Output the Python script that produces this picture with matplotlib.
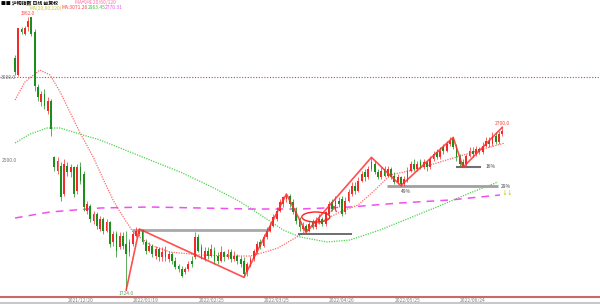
import matplotlib
matplotlib.use("Agg")
import matplotlib.pyplot as plt
from matplotlib.patches import Ellipse
from matplotlib.lines import Line2D
import numpy as np

plt.rcParams['font.family'] = ['Noto Sans CJK SC', 'DejaVu Sans']

# daily candles
opens = [3116, 3014, 3290, 3260, 3300, 3360, 3270, 2940, 2850, 2900,
         2800, 2860, 2520, 2440, 2470, 2300, 2470, 2430, 2460, 2320,
         2460, 2420, 2200, 2230, 2140, 2180, 2090, 2150, 2080, 2130,
         2010, 2060, 1980, 2050, 2000, 1950, 2000, 2050, 2060, 2080,
         2010, 1960, 1990, 1930, 1970, 1920, 1960, 1910, 1940, 1900,
         1870, 1850, 1830, 1850, 1900, 1920, 2040, 1980, 1910, 1960,
         1930, 1960, 1930, 1900, 1950, 1920, 1950, 1910, 1930, 1910,
         1900, 1830, 1870, 1910, 1950, 2010, 1990, 2040, 2080, 2110,
         2150, 2200, 2240, 2270, 2290, 2250, 2200, 2150, 2090, 2110,
         2080, 2130, 2100, 2130, 2150, 2120, 2180, 2250, 2210, 2260,
         2270, 2190, 2260, 2300, 2350, 2320, 2380, 2430, 2400, 2450,
         2480, 2430, 2400, 2450, 2410, 2450, 2410, 2370, 2400, 2360,
         2380, 2440, 2480, 2450, 2490, 2460, 2490, 2460, 2510, 2550,
         2520, 2580, 2560, 2600, 2630, 2580, 2520, 2490, 2480, 2530,
         2560, 2540, 2570, 2550, 2590, 2620, 2600, 2650, 2610, 2660]
closes = [3032, 3296, 3270, 3296, 3340, 3260, 2950, 2880, 2900, 2830,
          2860, 2690, 2460, 2500, 2280, 2480, 2430, 2460, 2300, 2460,
          2380, 2220, 2240, 2150, 2180, 2110, 2150, 2080, 2130, 2000,
          2060, 1960, 2050, 1990, 1940, 2010, 2060, 2080, 2080, 2010,
          1960, 1990, 1940, 1970, 1920, 1950, 1920, 1940, 1900, 1860,
          1850, 1810, 1850, 1880, 1880, 2040, 1960, 1920, 1960, 1930,
          1970, 1900, 1900, 1950, 1920, 1940, 1910, 1930, 1900, 1880,
          1820, 1880, 1910, 1960, 2000, 1980, 2040, 2080, 2110, 2160,
          2200, 2250, 2280, 2290, 2240, 2190, 2140, 2100, 2110, 2080,
          2120, 2100, 2140, 2150, 2120, 2190, 2240, 2210, 2260, 2240,
          2180, 2260, 2310, 2350, 2320, 2380, 2420, 2400, 2450, 2490,
          2430, 2400, 2440, 2410, 2450, 2400, 2370, 2400, 2360, 2390,
          2440, 2480, 2450, 2480, 2460, 2490, 2460, 2510, 2540, 2520,
          2560, 2560, 2600, 2620, 2580, 2520, 2480, 2470, 2530, 2560,
          2540, 2570, 2550, 2590, 2620, 2600, 2650, 2610, 2660, 2680]
highs = [3134, 3296, 3300, 3310, 3362, 3350, 3290, 2960, 2920, 2930,
         2880, 2870, 2530, 2520, 2490, 2510, 2490, 2480, 2470, 2480,
         2490, 2440, 2260, 2240, 2200, 2190, 2170, 2160, 2150, 2140,
         2080, 2080, 2070, 2070, 2080, 2030, 2080, 2100, 2090, 2090,
         2030, 2010, 2000, 1990, 1980, 1980, 1990, 1960, 1950, 1920,
         1880, 1870, 1860, 1900, 1930, 2070, 2060, 2000, 1980, 1980,
         2000, 1980, 1950, 1990, 1960, 1970, 1970, 1960, 1940, 1930,
         1920, 1890, 1930, 1970, 2020, 2030, 2060, 2100, 2130, 2180,
         2220, 2270, 2290, 2300, 2300, 2270, 2220, 2160, 2130, 2120,
         2140, 2150, 2160, 2180, 2160, 2200, 2260, 2270, 2290, 2280,
         2290, 2280, 2330, 2370, 2370, 2400, 2440, 2450, 2470, 2520,
         2500, 2450, 2460, 2470, 2470, 2460, 2430, 2420, 2410, 2410,
         2460, 2500, 2510, 2500, 2510, 2510, 2500, 2530, 2560, 2570,
         2580, 2600, 2620, 2640, 2640, 2600, 2540, 2510, 2540, 2580,
         2580, 2590, 2580, 2610, 2640, 2640, 2670, 2670, 2680, 2700]
lows = [3014, 3008, 3260, 3254, 3280, 3250, 2920, 2860, 2830, 2810,
        2780, 2650, 2440, 2420, 2260, 2290, 2410, 2400, 2280, 2300,
        2360, 2200, 2180, 2130, 2120, 2090, 2080, 2060, 2070, 1980,
        1990, 1920, 1970, 1970, 1724, 1930, 1990, 2040, 2050, 2000,
        1940, 1950, 1920, 1910, 1900, 1900, 1900, 1890, 1880, 1850,
        1830, 1800, 1820, 1840, 1860, 1910, 1950, 1910, 1900, 1910,
        1920, 1880, 1880, 1890, 1900, 1910, 1890, 1900, 1880, 1860,
        1800, 1810, 1860, 1900, 1940, 1970, 1980, 2030, 2070, 2100,
        2140, 2190, 2220, 2250, 2220, 2180, 2120, 2080, 2080, 2070,
        2070, 2090, 2090, 2120, 2110, 2110, 2170, 2200, 2200, 2220,
        2170, 2180, 2250, 2290, 2300, 2310, 2370, 2380, 2390, 2440,
        2420, 2390, 2390, 2400, 2400, 2390, 2360, 2360, 2350, 2350,
        2370, 2430, 2440, 2440, 2450, 2450, 2440, 2450, 2500, 2510,
        2510, 2540, 2550, 2590, 2570, 2500, 2470, 2460, 2470, 2520,
        2520, 2530, 2540, 2540, 2580, 2580, 2590, 2600, 2600, 2650]

# moving averages (candle index, price)
ma1_x = [0, 3, 7.6, 10.7, 13.8, 19.9, 23.9, 27.5, 30, 32.1, 36.1, 41.3, 47.4,
         56.6, 65.7, 71.9, 76.5, 80.4, 87.2, 93.3, 99.4, 104.9, 110.1, 114.7,
         121.7, 126.9, 136.1, 145.3, 149.8]
ma1_y = [2864, 2972, 3044, 3014, 2912, 2666, 2522, 2366, 2264, 2192, 2072, 1994,
         1952, 1934, 1928, 1928, 1952, 1976, 2054, 2132, 2192, 2234, 2324, 2414,
         2444, 2474, 2528, 2582, 2606]
ma2_x = [0, 4.6, 9.8, 13.8, 20.8, 26, 32.1, 41.3, 50.5, 59.6, 67.9, 71.9, 76.5,
         82, 87.2, 95.4, 102.4, 111.6, 117.7, 129, 139.1, 147.7]
ma2_y = [2606, 2660, 2696, 2696, 2654, 2624, 2576, 2504, 2432, 2348, 2264, 2216,
         2156, 2084, 2042, 2012, 2024, 2084, 2132, 2222, 2306, 2372]
ma3_x = [0, 10.7, 26, 41.3, 56.6, 71.9, 87.2, 102.4, 117.7, 133, 148.3]
ma3_y = [2156, 2192, 2216, 2222, 2216, 2210, 2210, 2222, 2246, 2264, 2294]

# swing points of the zigzag (index, 'H'/'L')
zig_idx = [34, 38, 70, 83, 89, 109, 118, 134, 137, 149]
zig_kind = ['L', 'H', 'L', 'H', 'L', 'H', 'L', 'H', 'L', 'H']

# support / resistance levels: price, first index, last index
lvl_price = [2084, 2060, 2348, 2462]
lvl_start = [35.8, 86.5, 113.8, 135]
lvl_end = [78, 103, 147.7, 142.5]

tick_pos = [20, 40, 60, 80, 100, 120, 140]
tick_labels = ['2021/12/20', '2022/01/19', '2022/02/25', '2022/03/25',
               '2022/04/26', '2022/05/25', '2022/06/24']

UP = '#f22a2a'
DOWN = '#1a901a'

fig = plt.figure(figsize=(6, 3.04), dpi=100)
ax = fig.add_axes([0, 7/304, 1, 297/304])
ax.set_xlim(-4.6, 178.9)
ax.set_ylim(1682, 3464)

o = np.array(opens); c = np.array(closes)
h = np.array(highs); l = np.array(lows)
idx = np.arange(len(o))
cols = np.where(c >= o, UP, DOWN)
ax.vlines(idx, l, h, colors=cols, lw=0.5, zorder=3)
ax.bar(idx, np.maximum(np.abs(c - o), 4), bottom=np.minimum(o, c), width=0.55,
       color=cols, linewidth=0, zorder=4)

# moving averages
ax.plot(ma1_x, ma1_y, color='#ff6a6a', lw=0.9, ls=(0, (1, 1)), zorder=2)
ax.plot(ma2_x, ma2_y, color='#4cd44c', lw=0.9, ls=(0, (1, 1)), zorder=2)
ax.plot(ma3_x, ma3_y, color='#f050f0', lw=1.1, ls=(0, (5, 4)), zorder=2)

# 3000 level
ax.axhline(3000, color='#c04848', lw=0.8, ls=(0, (1, 1.5)), zorder=1)
ax.text(-4.2, 3000, '3000.0', fontsize=3.5, color='#707070', va='center')
ax.text(-4.2, 2500, '2500.0', fontsize=3.5, color='#707070', va='center')

# levels
lvl_cols = ['#a8a8a8', '#555555', '#a0a0a0', '#707070']
lvl_lw = [2, 1.2, 2, 1.5]
for p, s, e, cc, w in zip(lvl_price, lvl_start, lvl_end, lvl_cols, lvl_lw):
    ax.plot([s, e], [p, p], color=cc, lw=w, solid_capstyle='butt', zorder=2)

# zigzag
zig_p = [h[i] if k == 'H' else l[i] for i, k in zip(zig_idx, zig_kind)]
ax.plot(zig_idx, zig_p, color='#ff3030', lw=1.2, alpha=0.85, zorder=5)

ax.add_patch(Ellipse((92, 2162), 8.6, 60, fill=False, edgecolor='#ff2020',
                     lw=1, zorder=6))
ax.annotate('', xy=(97.5, 2250), xytext=(97.5, 2190),
            arrowprops=dict(arrowstyle='->', color='#ff3030', lw=0.7))

# annotations
hi_i = int(np.argmax(h)); lo_i = int(np.argmin(l))
ax.text(hi_i, h[hi_i] + 8, f'{h[hi_i]:.1f}', fontsize=3.3, color='#ff4040',
        ha='center', va='bottom')
ax.text(lo_i, l[lo_i] - 8, f'{l[lo_i]:.1f}', fontsize=3.5, color='#5aa05a',
        ha='center', va='top')
ax.text(len(h) - 1, h[-1] + 8, f'{h[-1]:.1f}', fontsize=3.5, color='#ff4040',
        ha='center', va='bottom')
ax.text(119.5, lvl_price[2] - 20, '49%', fontsize=3.5, color='#404040',
        ha='center', va='top')
ax.text(148.5, lvl_price[2], '29%', fontsize=3.5, color='#404040', va='center')
ax.text(144, lvl_price[3], '16%', fontsize=3.5, color='#404040', va='center')
ax.text(148.8, lvl_price[2] - 25, '↓↓', fontsize=5, color='#c8c820',
        va='top', family=['DejaVu Sans'])

# header
ax.text(0.001, 0.999, '■■ 沪铜指数 日线 前复权', transform=ax.transAxes,
        fontsize=3.5, color='black', va='top', fontweight='bold')
ax.text(0.125, 0.999, 'MA均线 20/60/120', transform=ax.transAxes,
        fontsize=3.5, color='#ff70a0', va='top')
hdr = [('MA(20,60,120)', '#c8c830', 0.05), ('MA:3071.26', '#ff4040', 0.102),
       ('2963.45', '#40c040', 0.147), ('2770.31', '#f050f0', 0.175)]
for t, cc, xx in hdr:
    ax.text(xx, 0.983, t, transform=ax.transAxes, fontsize=3.5, color=cc, va='top')

for s in ['left', 'right', 'top']:
    ax.spines[s].set_visible(False)
ax.spines['bottom'].set_color('#c86a6a')
ax.spines['bottom'].set_linewidth(1.5)
ax.set_yticks([])
ax.set_xticks(tick_pos)
ax.set_xticklabels(tick_labels, fontsize=3.5, color='#808080')
ax.tick_params(axis='x', length=0, pad=1)

fig.add_artist(Line2D([0, 1], [1.5/304, 1.5/304], color='#c8c8c8', lw=1.5))
fig.savefig('out.png', dpi=100, facecolor='white')
